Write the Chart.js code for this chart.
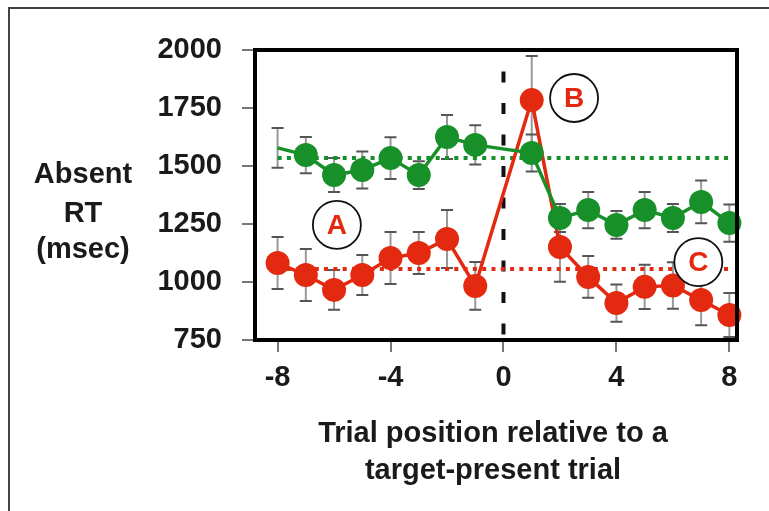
<!DOCTYPE html>
<html>
<head>
<meta charset="utf-8">
<script src="https://cdn.jsdelivr.net/npm/chart.js@4.4.0/dist/chart.umd.min.js"></script>
<style>
  html, body { margin: 0; padding: 0; background: #fff; }
  #wrap { width: 769px; height: 511px; }
</style>
</head>
<body>
<div id="wrap"><canvas id="chart"></canvas></div>
<script>
// trial positions (no point at 0 = the target-present trial itself)
const trials = [-8, -7, -6, -5, -4, -3, -2, -1, 1, 2, 3, 4, 5, 6, 7, 8];
const redRT = [1082, 1030, 966, 1030, 1103, 1125, 1185, 983, 1784, 1151, 1022, 909, 979, 985, 922, 858];
const redErr = [112, 112, 86, 86, 112, 90, 125, 103, 190, 150, 90, 80, 95, 100, 108, 95];
const greenRT = [1578, 1547, 1461, 1483, 1534, 1461, 1625, 1591, 1556, 1276, 1310, 1246, 1310, 1276, 1345, 1254];
const greenErr = [86, 78, 73, 80, 90, 60, 95, 85, 80, 60, 78, 60, 78, 60, 92, 80];
const redBaseline = 1056;
const greenBaseline = 1534;
const xTicks = [-8, -4, 0, 4, 8];
const yTicks = [750, 1000, 1250, 1500, 1750, 2000];
const notes = ['A', 'B', 'C'];
const noteX = [-5.9, 2.5, 6.9];
const noteY = [1246, 1793, 1086];

const RED = '#e3290f';
const GREEN = '#17902a';
const FONT = "'Liberation Sans', Arial, Helvetica, sans-serif";

const pts = (ys) => trials.map((t, i) => ({ x: t, y: ys[i] }));

const decor = {
  id: 'decor',
  beforeDraw(chart) {
    const ctx = chart.ctx;
    ctx.save();
    ctx.strokeStyle = '#444';
    ctx.lineWidth = 2;
    ctx.beginPath();
    ctx.moveTo(9, 520);
    ctx.lineTo(9, 8);
    ctx.lineTo(780, 8);
    ctx.stroke();
    ctx.restore();
  },
  beforeDatasetsDraw(chart) {
    const ctx = chart.ctx;
    const xs = chart.scales.x, ys = chart.scales.y;
    ctx.save();
    const bars = [[redRT, redErr], [greenRT, greenErr]];
    bars.forEach(([vals, errs]) => {
      trials.forEach((t, i) => {
        const px = xs.getPixelForValue(t);
        const top = ys.getPixelForValue(vals[i] + errs[i]);
        const bot = ys.getPixelForValue(vals[i] - errs[i]);
        ctx.strokeStyle = '#999';
        ctx.lineWidth = 2;
        ctx.beginPath();
        ctx.moveTo(px, top);
        ctx.lineTo(px, bot);
        ctx.stroke();
        ctx.strokeStyle = '#555';
        ctx.beginPath();
        ctx.moveTo(px - 6, top); ctx.lineTo(px + 6, top);
        ctx.moveTo(px - 6, bot); ctx.lineTo(px + 6, bot);
        ctx.stroke();
      });
    });
    ctx.restore();
  },
  afterDatasetsDraw(chart) {
    const ctx = chart.ctx;
    const a = chart.chartArea;
    const xs = chart.scales.x, ys = chart.scales.y;
    ctx.save();
    ctx.strokeStyle = '#000';
    ctx.lineWidth = 4;
    ctx.strokeRect(a.left, a.top, a.right - a.left, a.bottom - a.top);
    notes.forEach((n, i) => {
      const px = xs.getPixelForValue(noteX[i]);
      const py = ys.getPixelForValue(noteY[i]);
      ctx.fillStyle = '#fff';
      ctx.strokeStyle = '#111';
      ctx.lineWidth = 1.8;
      ctx.beginPath();
      ctx.arc(px, py, 24, 0, Math.PI * 2);
      ctx.fill();
      ctx.stroke();
      ctx.fillStyle = RED;
      ctx.font = 'bold 28px ' + FONT;
      ctx.textAlign = 'center';
      ctx.textBaseline = 'middle';
      ctx.fillText(n, px, py + 1);
    });
    ctx.restore();
  },
  afterDraw(chart) {
    const ctx = chart.ctx;
    ctx.save();
    ctx.fillStyle = '#1a1a1a';
    ctx.font = 'bold 29px ' + FONT;
    ctx.textAlign = 'center';
    ctx.textBaseline = 'alphabetic';
    ctx.fillText('Absent', 83, 183);
    ctx.fillText('RT', 83, 222);
    ctx.fillText('(msec)', 83, 258);
    ctx.fillText('Trial position relative to a', 493, 442);
    ctx.fillText('target-present trial', 493, 479);
    ctx.restore();
  }
};

new Chart(document.getElementById('chart'), {
  type: 'line',
  data: {
    datasets: [
      {
        label: 'green',
        data: pts(greenRT),
        borderColor: GREEN,
        backgroundColor: GREEN,
        borderWidth: 3.5,
        pointRadius: trials.map((t) => (t === -8 ? 0 : 12)),
        pointBorderWidth: 0,
        tension: 0,
        clip: false
      },
      {
        label: 'red',
        data: pts(redRT),
        borderColor: RED,
        backgroundColor: RED,
        borderWidth: 3.5,
        pointRadius: 12,
        pointBorderWidth: 0,
        tension: 0,
        clip: false
      },
      {
        label: 'green baseline',
        data: [{ x: -8, y: greenBaseline }, { x: 8, y: greenBaseline }],
        borderColor: GREEN,
        borderWidth: 4,
        borderDash: [4, 5.3],
        pointRadius: 0
      },
      {
        label: 'red baseline',
        data: [{ x: -8, y: redBaseline }, { x: 8, y: redBaseline }],
        borderColor: RED,
        borderWidth: 4,
        borderDash: [4, 5.3],
        pointRadius: 0
      },
      {
        label: 'target trial',
        data: [{ x: 0, y: 750 }, { x: 0, y: 2000 }],
        borderColor: '#111',
        borderWidth: 4,
        borderDash: [11, 20.5],
        borderDashOffset: 26,
        pointRadius: 0
      }
    ]
  },
  options: {
    responsive: true,
    maintainAspectRatio: false,
    animation: false,
    layout: { padding: { left: 0, top: 50, right: 32, bottom: 0 } },
    plugins: { legend: { display: false }, tooltip: { enabled: false } },
    scales: {
      x: {
        type: 'linear',
        min: -8.8,
        max: 8.27,
        afterBuildTicks: (s) => { s.ticks = xTicks.map((v) => ({ value: v })); },
        afterFit: (s) => { s.height = 171; },
        border: { display: false },
        grid: { drawOnChartArea: false, drawTicks: true, tickLength: 12, color: '#777', lineWidth: 2 },
        ticks: {
          padding: 9,
          color: '#1a1a1a',
          font: { family: FONT, size: 29, weight: 'bold' },
          callback: (v) => String(v)
        }
      },
      y: {
        min: 750,
        max: 2000,
        afterBuildTicks: (s) => { s.ticks = yTicks.map((v) => ({ value: v })); },
        afterFit: (s) => { s.width = 255; },
        border: { display: false },
        grid: { drawOnChartArea: false, drawTicks: true, tickLength: 13, color: '#777', lineWidth: 2 },
        ticks: {
          padding: 20,
          color: '#1a1a1a',
          font: { family: FONT, size: 29, weight: 'bold' },
          callback: (v) => String(v)
        }
      }
    }
  },
  plugins: [decor]
});
</script>
</body>
</html>
